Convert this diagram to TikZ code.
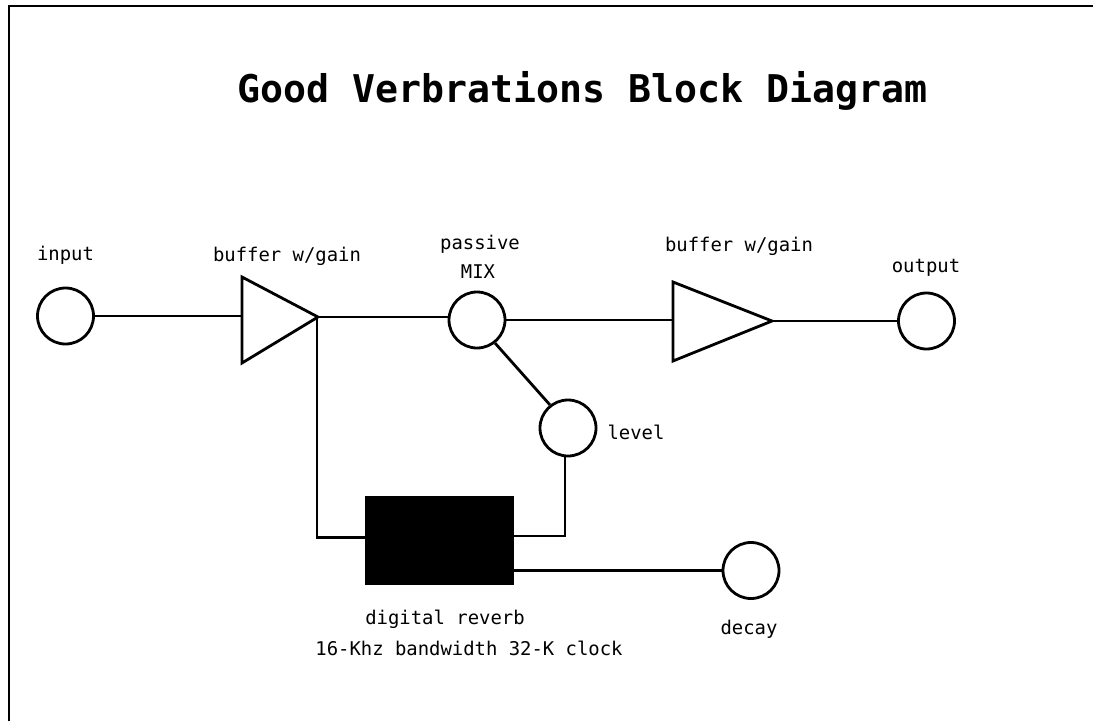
\documentclass[tikz,border=0pt]{standalone}
\usepackage{fontspec}
\setmainfont{DejaVu Sans Mono}
\tikzset{
  x=1pt,y=-1pt,
  knob/.style={circle,draw=black,line width=2.8pt,minimum size=56pt,inner sep=0pt},
  wire/.style={draw=black,line width=2.8pt},
  amp/.style={draw=black,line width=2.8pt,line join=miter},
  small/.style={font=\fontsize{18.9}{22}\selectfont,inner sep=0pt,anchor=center},
  title/.style={font=\bfseries\fontsize{38.2}{44}\selectfont,inner sep=0pt,anchor=center}
}
\begin{document}
\begin{tikzpicture}
\useasboundingbox (0,0) rectangle (1093,721);
\draw[wire,line width=2pt] (8.5,721) -- (8.5,5.5) -- (1093,5.5);
\node[title] (t) at (582.5,91) {Good Verbrations Block Diagram};
\node[knob] (in) at (65.5,316) {};
\node[knob] (mix) at (477,320) {};
\node[knob] (lev) at (568,428) {};
\node[knob] (dec) at (751,570.5) {};
\node[knob] (out) at (926.5,321) {};
\coordinate (a1in) at (242,316);
\coordinate (a1out) at (318,317);
\coordinate (a2in) at (673,320);
\coordinate (a2out) at (772,321);
\coordinate (tap) at (317,317);
\draw[amp] (242,277) -- (242,363) -- (a1out) -- cycle;
\draw[amp] (673,282) -- (673,361) -- (a2out) -- cycle;
\node[fill=black,minimum width=149pt,minimum height=89pt,inner sep=0pt] (rev) at (439.5,540.5) {};
\draw[wire] (in.east) -- (in.east -| a1in);
\draw[wire] (a1out) -- (a1out -| mix.west);
\draw[wire] (mix.east) -- (mix.east -| a2in);
\draw[wire] (a2out) -- (a2out -| out.west);
\draw[wire] (mix.-52) -- (lev.128);
\draw[wire] (tap) -- (317,537.5) -- (rev.west |- 0,537.5);
\draw[wire] (565,455) -- (565,536) -- (rev.east |- 0,536);
\draw[wire] (rev.east |- dec) -- (dec.west);
\node[small] (l1) at (65.5,255) {input};
\node[small] (l2) at (287,256) {buffer w/gain};
\node[small] (l3) at (480,244) {passive};
\node[small] (l4) at (478,272) {MIX};
\node[small] (l5) at (739,246) {buffer w/gain};
\node[small] (l6) at (926,268) {output};
\node[small] (l7) at (636,432) {level};
\node[small] (l8) at (445,619) {digital reverb};
\node[small] (l9) at (469,648) {16-Khz bandwidth 32-K clock};
\node[small] (l10) at (749,629) {decay};
\end{tikzpicture}
\end{document}
